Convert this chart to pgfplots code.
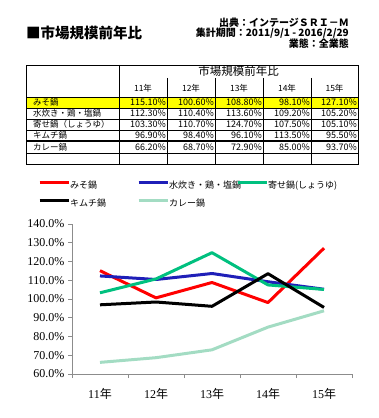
\documentclass[border=0pt]{standalone}
\usepackage{fontspec}
\setmainfont{Liberation Serif}
\newfontfamily\jp{Noto Sans CJK JP}
\usepackage{pgfplots}
\pgfplotsset{compat=1.18}
\definecolor{cRed}{HTML}{FF0000}
\definecolor{cBlue}{HTML}{1F1FB8}
\definecolor{cGreen}{HTML}{00C07F}
\definecolor{cLight}{HTML}{A3DCC3}
\definecolor{cYellow}{HTML}{FFFF00}
\begin{document}
\begin{tikzpicture}
\useasboundingbox (0,0) rectangle (379pt,418pt);
\begin{scope}[x=1pt,y=-1pt,shift={(0pt,418pt)}]
% titles
\node[anchor=west, inner sep=0pt, font=\jp\bfseries\fontsize{14.5}{16}\selectfont] at (26,33) {■市場規模前年比};
\node[anchor=east, inner sep=0pt, font=\jp\bfseries\fontsize{10}{11}\selectfont] at (349,23) {出典：インテージＳＲＩ－Ｍ};
\node[anchor=east, inner sep=0pt, font=\jp\bfseries\fontsize{10}{11}\selectfont] at (349,33.5) {集計期間：2011/9/1 - 2016/2/29};
\node[anchor=east, inner sep=0pt, font=\jp\bfseries\fontsize{10}{11}\selectfont] at (349,44) {業態：全業態};
% table
\fill[cYellow] (26,97) rectangle (358,108);
\draw[line width=0.8pt] (26,65) rectangle (358,164);
\draw[line width=0.8pt] (119,65) -- (119,164);
\foreach \x in {167,215,263,311} {\draw[line width=0.8pt] (\x,78) -- (\x,164);}
\foreach \y in {97,108,119,130,153} {\draw[line width=0.8pt] (26,\y) -- (358,\y);}
\draw[line width=1.5pt] (26,141) -- (358,141);
\node[inner sep=0pt, font=\jp\fontsize{11.5}{12}\selectfont] at (238.5,71) {市場規模前年比};
\foreach \x/\t in {143/11年,191/12年,239/13年,287/14年,334.5/15年}
  {\node[inner sep=0pt, font=\jp\fontsize{8.5}{9}\selectfont] at (\x,88) {\t};}
\foreach \y/\t in {102.5/みそ鍋,113.5/水炊き・鶏・塩鍋,124.5/寄せ鍋（しょうゆ）,135.5/キムチ鍋,147/カレー鍋}
  {\node[anchor=west, inner sep=0pt, font=\jp\fontsize{8.5}{9}\selectfont] at (33,\y) {\t};}
\foreach \y/\a/\b/\c/\d/\e in {
  102.5/115.10/100.60/108.80/98.10/127.10,
  113.5/112.30/110.40/113.60/109.20/105.20,
  124.5/103.30/110.70/124.70/107.50/105.10,
  135.5/96.90/98.40/96.10/113.50/95.50,
  147/66.20/68.70/72.90/85.00/93.70}
{
  \node[anchor=east, inner sep=0pt, font=\jp\fontsize{9}{9}\selectfont] at (166,\y) {\a\%};
  \node[anchor=east, inner sep=0pt, font=\jp\fontsize{9}{9}\selectfont] at (214,\y) {\b\%};
  \node[anchor=east, inner sep=0pt, font=\jp\fontsize{9}{9}\selectfont] at (262,\y) {\c\%};
  \node[anchor=east, inner sep=0pt, font=\jp\fontsize{9}{9}\selectfont] at (310,\y) {\d\%};
  \node[anchor=east, inner sep=0pt, font=\jp\fontsize{9}{9}\selectfont] at (357,\y) {\e\%};
}
\end{scope}
\begin{axis}[
  at={(72pt,44pt)}, anchor=south west,
  scale only axis, width=280pt, height=150pt,
  xmin=-0.5, xmax=4.5, ymin=60, ymax=140,
  axis x line*=bottom, axis y line*=left,
  axis line style={black!45, line width=0.8pt, -},
  tick align=outside,
  xtick={0,1,2,3,4},
  xticklabels={11{\jp 年},12{\jp 年},13{\jp 年},14{\jp 年},15{\jp 年}},
  major x tick style={draw=none},
  minor xtick={-0.5,0.5,1.5,2.5,3.5,4.5},
  minor tick length=4pt,
  minor x tick style={black!45, line width=0.8pt},
  ytick={60,70,80,90,100,110,120,130,140},
  yticklabels={60.0\%,70.0\%,80.0\%,90.0\%,100.0\%,110.0\%,120.0\%,130.0\%,140.0\%},
  major tick length=4pt,
  y tick style={black!45, line width=0.8pt},
  ticklabel style={font=\fontsize{12}{14}\selectfont},
  xticklabel style={yshift=-7pt},
  legend columns=3,
  legend style={at={(axis description cs:-0.1214,1.29)}, anchor=north west,
    draw=none, fill=none, inner sep=0pt,
    nodes={inner sep=0pt},
    font=\jp\fontsize{9}{10}\selectfont, column sep=0pt, row sep=9.5pt},
  legend cell align=left,
  legend image code/.code={\draw[#1] (0pt,3pt) -- (29pt,3pt);},
  every axis plot/.append style={line width=3pt, line join=round},
]
\addplot[cRed] coordinates {(0,115.1) (1,100.6) (2,108.8) (3,98.1) (4,127.1)};
\addlegendentry{\makebox[67pt][l]{みそ鍋}}
\addplot[cBlue] coordinates {(0,112.3) (1,110.4) (2,113.6) (3,109.2) (4,105.2)};
\addlegendentry{\makebox[67pt][l]{水炊き・鶏・塩鍋}}
\addplot[cGreen] coordinates {(0,103.3) (1,110.7) (2,124.7) (3,107.5) (4,105.1)};
\addlegendentry{\makebox[67pt][l]{寄せ鍋(しょうゆ)}}
\addplot[black] coordinates {(0,96.9) (1,98.4) (2,96.1) (3,113.5) (4,95.5)};
\addlegendentry{\makebox[67pt][l]{キムチ鍋}}
\addplot[cLight] coordinates {(0,66.2) (1,68.7) (2,72.9) (3,85.0) (4,93.7)};
\addlegendentry{\makebox[67pt][l]{カレー鍋}}
\end{axis}
\end{tikzpicture}
\end{document}
